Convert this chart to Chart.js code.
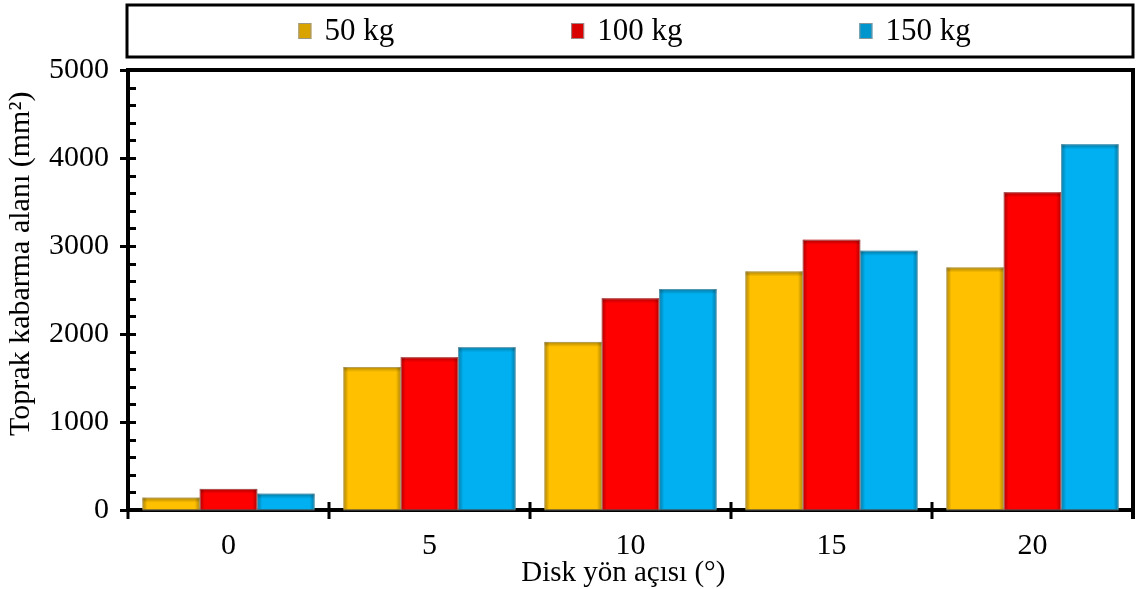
<!DOCTYPE html>
<html>
<head>
<meta charset="utf-8">
<script src="https://cdn.jsdelivr.net/npm/chart.js@4.4.1/dist/chart.umd.min.js"></script>
<style>
  html, body { margin: 0; padding: 0; background: #ffffff; }
  #wrap { width: 1141px; height: 589px; position: relative; }
</style>
</head>
<body>
<div id="wrap"><canvas id="c"></canvas></div>
<script>
// Disk direction angle (degrees)
const categories = ['0', '5', '10', '15', '20'];
// Soil heave area (mm²) for each load
const load50 = [140, 1625, 1910, 2710, 2755];
const load100 = [240, 1735, 2405, 3070, 3610];
const load150 = [185, 1850, 2510, 2945, 4155];
const seriesLabels = ['50 kg', '100 kg', '150 kg'];
const seriesColors = ['#FFC000', '#FF0000', '#00B0F0'];
const yMin = 0, yMax = 5000, yMajor = 1000, yMinor = 200;

const FONT = '"Liberation Serif", "Times New Roman", serif';

// Bevel-like shading on each bar edge
const barShade = {
  id: 'barShade',
  afterDatasetsDraw(chart) {
    const ctx = chart.ctx;
    ctx.save();
    chart.data.datasets.forEach((ds, i) => {
      const meta = chart.getDatasetMeta(i);
      meta.data.forEach(el => {
        const p = el.getProps(['x', 'y', 'base', 'width'], true);
        const l = p.x - p.width / 2, r = p.x + p.width / 2;
        const t = Math.min(p.y, p.base), b = Math.max(p.y, p.base);
        const h = b - t, e = 5;
        let g = ctx.createLinearGradient(l, 0, l + e, 0);
        g.addColorStop(0, 'rgba(0,0,0,0.30)'); g.addColorStop(1, 'rgba(0,0,0,0)');
        ctx.fillStyle = g; ctx.fillRect(l, t, e, h);
        g = ctx.createLinearGradient(r, 0, r - e, 0);
        g.addColorStop(0, 'rgba(0,0,0,0.30)'); g.addColorStop(1, 'rgba(0,0,0,0)');
        ctx.fillStyle = g; ctx.fillRect(r - e, t, e, h);
        g = ctx.createLinearGradient(0, t, 0, t + e);
        g.addColorStop(0, 'rgba(0,0,0,0.30)'); g.addColorStop(1, 'rgba(0,0,0,0)');
        ctx.fillStyle = g; ctx.fillRect(l, t, p.width, e);
        ctx.strokeStyle = 'rgba(180,180,180,0.5)';
        ctx.lineWidth = 1;
        ctx.strokeRect(l + 0.5, t + 0.5, p.width - 1, h);
      });
    });
    ctx.restore();
  }
};

// Frame, tick marks and boxed legend
const frame = {
  id: 'frame',
  afterDraw(chart) {
    const ctx = chart.ctx, a = chart.chartArea;
    const ys = chart.scales.y, xs = chart.scales.x;
    ctx.save();
    ctx.strokeStyle = '#000';
    ctx.lineCap = 'butt';

    // top and right border of plot
    ctx.lineWidth = 4;
    ctx.beginPath();
    ctx.moveTo(a.left - 2, a.top);
    ctx.lineTo(a.right, a.top);
    ctx.moveTo(a.right, a.top - 2);
    ctx.lineTo(a.right, a.bottom + 9);
    ctx.stroke();

    // y-axis ticks
    ctx.lineWidth = 3;
    ctx.beginPath();
    for (let v = yMin; v <= yMax; v += yMinor) {
      const py = Math.round(ys.getPixelForValue(v)) + 0.5;
      const major = v % yMajor === 0;
      ctx.moveTo(a.left - (major ? 8 : 0), py);
      ctx.lineTo(a.left + 8, py);
    }
    // x-axis ticks at category boundaries
    for (let i = 0; i <= categories.length; i++) {
      const px = Math.round(xs.getPixelForValue(i - 0.5));
      ctx.moveTo(px, a.bottom - 8);
      ctx.lineTo(px, a.bottom + 9);
    }
    ctx.stroke();

    // legend box
    const boxTop = 5, boxBottom = 57;
    ctx.lineWidth = 3;
    ctx.strokeRect(a.left - 1, boxTop, a.right - a.left + 1, boxBottom - boxTop);

    ctx.font = '31px ' + FONT;
    ctx.textBaseline = 'middle';
    ctx.textAlign = 'left';
    const sw = 13, sh = 16, sgap = 13, igap = 177;
    const widths = chart.data.datasets.map(d => ctx.measureText(d.label).width);
    const total = widths.reduce((s, w) => s + sw + sgap + w, 0) + igap * (widths.length - 1);
    let x = (a.left + a.right) / 2 - total / 2 + 4;
    const cy = (boxTop + boxBottom) / 2;
    chart.data.datasets.forEach((d, i) => {
      ctx.fillStyle = d.backgroundColor;
      ctx.fillRect(x, cy - sh / 2, sw, sh);
      ctx.fillStyle = 'rgba(0,0,0,0.15)';
      ctx.fillRect(x, cy - sh / 2, sw, sh);
      ctx.strokeStyle = 'rgba(150,150,150,0.9)';
      ctx.lineWidth = 1;
      ctx.strokeRect(x + 0.5, cy - sh / 2 + 0.5, sw - 1, sh - 1);
      ctx.fillStyle = '#000';
      ctx.fillText(d.label, x + sw + sgap, cy + 1);
      x += sw + sgap + widths[i] + igap;
    });
    ctx.restore();
  }
};

new Chart(document.getElementById('c'), {
  type: 'bar',
  data: {
    labels: categories,
    datasets: [load50, load100, load150].map((vals, i) => ({
      label: seriesLabels[i],
      data: vals,
      backgroundColor: seriesColors[i],
      borderWidth: 0,
      barPercentage: 1,
      categoryPercentage: 0.856
    }))
  },
  options: {
    responsive: true,
    maintainAspectRatio: false,
    animation: false,
    layout: { padding: { top: 70, right: 8, left: 0, bottom: 0 } },
    plugins: { legend: { display: false }, tooltip: { enabled: false } },
    scales: {
      x: {
        grid: { offset: true, drawOnChartArea: false, drawTicks: false },
        border: { color: '#000', width: 4 },
        ticks: { color: '#000', font: { family: FONT, size: 30 }, padding: 18 },
        title: { display: true, text: 'Disk yön açısı (°)\u00A0\u00A0', color: '#000',
                 font: { family: FONT, size: 29 }, padding: { top: 0, bottom: -2 } },
        afterFit(s) { s.height = 79; }
      },
      y: {
        min: yMin, max: yMax,
        grid: { drawOnChartArea: false, drawTicks: false },
        border: { color: '#000', width: 4 },
        ticks: { stepSize: yMajor, color: '#000', font: { family: FONT, size: 30 }, padding: 19,
                 callback: v => String(v) },
        title: { display: true,
                 text: '\u00A0\u00A0\u00A0\u00A0\u00A0\u00A0\u00A0Toprak kabarma alanı (mm²)',
                 color: '#000',
                 font: { family: FONT, size: 30 }, padding: { top: 3, bottom: 0 } },
        afterFit(s) { s.width = 128; }
      }
    }
  },
  plugins: [barShade, frame]
});
</script>
</body>
</html>
